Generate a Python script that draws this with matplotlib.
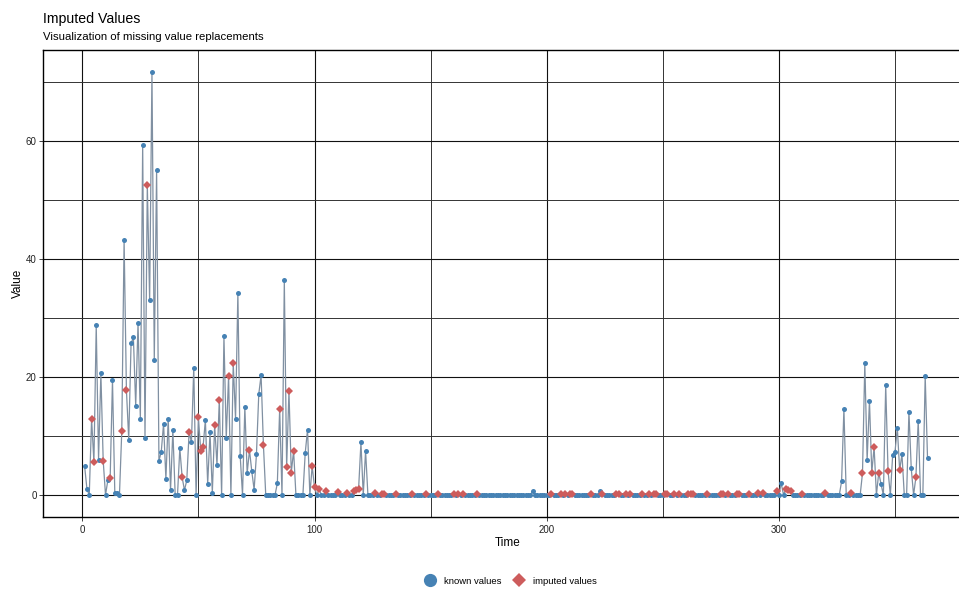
import numpy as np
import matplotlib
matplotlib.use("Agg")
import matplotlib.pyplot as plt
from matplotlib.lines import Line2D

# ---------------- data ----------------
n_days = 364
known_t = [1, 2, 6, 7, 8, 11, 13, 14, 15, 18, 20, 21, 22, 23, 24, 25, 26, 27,
           29, 30, 31, 32, 33, 34, 35, 36, 37, 38, 39, 42, 44, 45, 47, 48,
           53, 54, 55, 56, 58, 61, 62, 66, 67, 68, 70, 71, 73, 74, 75, 76, 77,
           84, 87, 96, 97, 120, 122, 194, 223, 301, 327, 328, 337, 338, 339,
           344, 346, 349, 350, 351, 353, 356, 357, 360, 363, 364]
known_v = [4.9, 1.0, 28.8, 6.0, 20.6, 2.5, 19.5, 0.3, 0.4, 43.2, 9.4, 25.7, 26.7, 15.1, 29.2, 12.9, 59.4, 9.7,
           33.0, 71.7, 22.9, 55.1, 5.8, 7.3, 12.1, 2.7, 12.9, 0.8, 11.0, 7.9, 0.8, 2.5, 8.9, 21.6,
           12.7, 1.9, 10.6, 0.4, 5.1, 26.9, 9.7, 12.9, 34.3, 6.6, 14.9, 3.7, 4.0, 0.9, 6.9, 17.1, 20.3,
           2.0, 36.4, 7.1, 11.1, 8.9, 7.5, 0.7, 0.6, 2.0, 2.3, 14.6, 22.3, 5.9, 16.0,
           1.8, 18.6, 6.8, 7.3, 11.4, 6.9, 14.1, 4.5, 12.6, 20.2, 6.3]
# all other known days are 0

imputed_t = [4, 5, 9, 12, 17, 19, 28, 43, 46, 50, 51, 52, 57, 59, 63, 65, 72, 78, 85,
             88, 89, 90, 91, 99, 100, 102, 105, 110, 114, 117, 118, 119, 126, 129, 130, 135,
             142, 148, 153, 160, 162, 164, 170, 202, 206, 208, 210, 211, 219, 224,
             230, 231, 234, 236, 241, 244, 246, 247, 251, 252, 255, 257, 261, 262, 263,
             269, 275, 276, 278, 282, 283, 287, 291, 293, 299, 303, 304, 305, 310, 320, 331,
             336, 340, 341, 343, 347, 352, 359]
imputed_v = [12.9, 5.6, 5.8, 2.9, 10.8, 17.8, 52.6, 3.0, 10.7, 13.2, 7.5, 8.1, 11.8, 16.1, 20.2, 22.3, 7.6, 8.5, 14.6,
             4.7, 17.6, 3.8, 7.5, 4.9, 1.3, 1.0, 0.6, 0.45, 0.3, 0.7, 0.85, 1.1, 0.3, 0.2, 0.2, 0.15,
             0.2, 0.1, 0.1, 0.2, 0.2, 0.1, 0.1, 0.1, 0.15, 0.15, 0.15, 0.15, 0.1, 0.15,
             0.15, 0.15, 0.1, 0.1, 0.1, 0.1, 0.1, 0.1, 0.1, 0.1, 0.1, 0.1, 0.1, 0.1, 0.1,
             0.1, 0.15, 0.15, 0.1, 0.15, 0.15, 0.15, 0.3, 0.3, 0.7, 1.1, 0.85, 0.6, 0.2, 0.3, 0.4,
             3.7, 3.8, 8.1, 3.8, 4.1, 4.2, 3.0]

x_ticks = [0, 100, 200, 300]
y_ticks = [0, 20, 40, 60]

# ---------------- build series ----------------
time = np.arange(1, n_days + 1)
series = np.zeros(n_days)
imputed_mask = np.zeros(n_days, dtype=bool)
for t, v in zip(known_t, known_v):
    series[t - 1] = v
for t, v in zip(imputed_t, imputed_v):
    series[t - 1] = v
    imputed_mask[t - 1] = True

# ---------------- figure ----------------
W, H = 959, 590
plt.rcParams['font.family'] = ['Liberation Sans', 'DejaVu Sans']
fig = plt.figure(figsize=(W / 100, H / 100), dpi=100)

left, right, top, bottom = 43, 974, 50, 517
ax = fig.add_axes([left / W, 1 - bottom / H, (right - left) / W, (bottom - top) / H])

STEEL = "#4682B4"
RED = "#CD5C5C"
LINE = "#8090a2"

ax.plot(time, series, color=LINE, lw=0.9, zorder=2)
ax.plot(time[~imputed_mask], series[~imputed_mask], linestyle='none', marker='o',
        markersize=3.6, color=STEEL, markeredgewidth=0, zorder=3)
ax.plot(time[imputed_mask], series[imputed_mask], linestyle='none', marker='D',
        markersize=3.7, color=RED, markeredgewidth=0, zorder=4)

# scales: x=0 at px 82.3, 2.322 px per unit; y=0 at px 495, 5.9 px per unit
x0, xs = 82.3, 2.322
y0, ys = 495.0, 5.9
ax.set_xlim((left - x0) / xs, (right - x0) / xs)
ax.set_ylim((y0 - bottom) / ys, (y0 - top) / ys)

ax.set_xticks(x_ticks)
ax.set_yticks(y_ticks)
ax.set_xticks([50, 150, 250, 350], minor=True)
ax.set_yticks([10, 30, 50, 70], minor=True)
ax.grid(which='major', color='#111111', lw=0.8, zorder=1)
ax.grid(which='minor', color='#333333', lw=0.7, zorder=1)
ax.set_axisbelow(True)
ax.tick_params(which='minor', length=0)
ax.tick_params(which='major', length=3.0, width=0.6, color='#222222', pad=1.5,
               labelsize=7.0, labelcolor='#222222')
ax.tick_params(axis='x', pad=2.5)
for s in ax.spines.values():
    s.set_color('black')
    s.set_linewidth(1.0)
ax.spines['right'].set_visible(False)

# titles and axis labels
fig.text(43 / W, 1 - 22.5 / H, "Imputed Values", fontsize=10.2, va='baseline', ha='left', color='black')
fig.text(43 / W, 1 - 40.5 / H, "Visualization of missing value replacements", fontsize=8.2,
         va='baseline', ha='left', color='black')
fig.text(508 / W, 1 - 543 / H, "Time", fontsize=8.5, ha='center', va='center', color='black')
fig.text(18 / W, 1 - 283 / H, "Value", fontsize=8.5, ha='center', va='center', rotation=90, color='black')

handles = [Line2D([], [], linestyle='none', marker='o', markersize=9.5, color=STEEL, markeredgewidth=0),
           Line2D([], [], linestyle='none', marker='D', markersize=6.8, color=RED, markeredgewidth=0)]
fig.legend(handles, ["known values", "imputed values"], loc='center',
           bbox_to_anchor=(511 / W, 1 - 581 / H), ncol=2, frameon=False, fontsize=6.8,
           handlelength=1.0, handletextpad=1.0, columnspacing=1.35, borderpad=0)

fig.savefig("out.png", dpi=100)
